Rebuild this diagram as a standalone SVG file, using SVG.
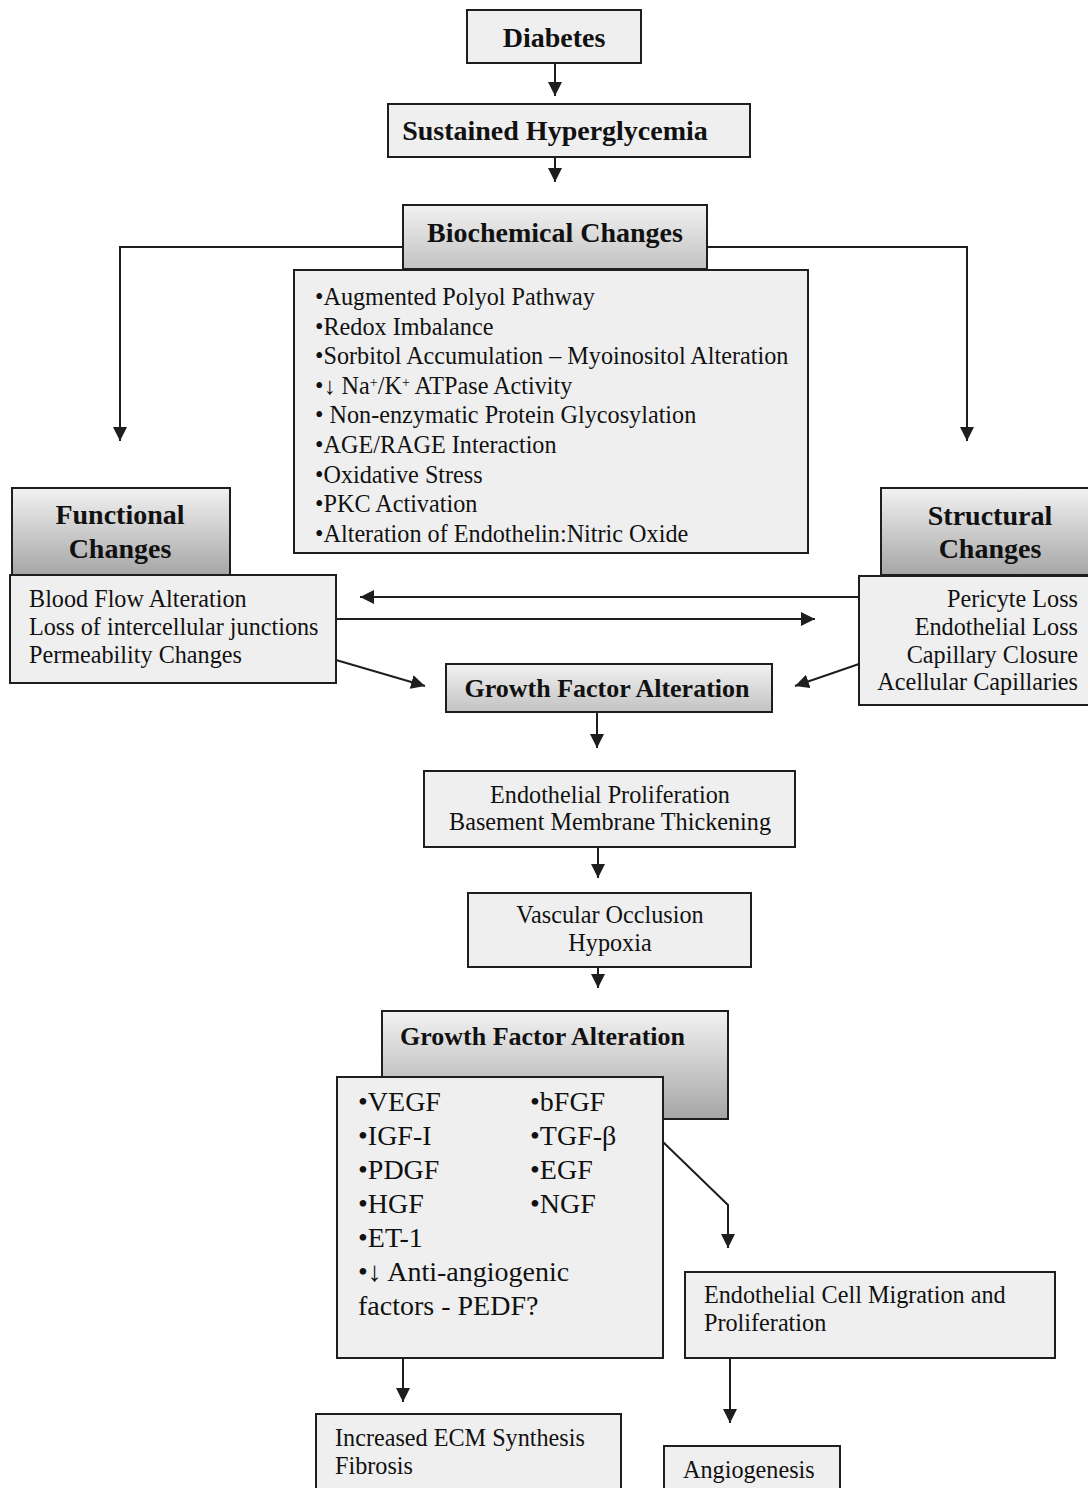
<svg xmlns="http://www.w3.org/2000/svg" width="1088" height="1488" viewBox="0 0 1088 1488">
<style>
.box{fill:#efefef;stroke:#1e1e1e;stroke-width:2}
.hdr{fill:url(#gDark);stroke:#1e1e1e;stroke-width:2}
.hdr2{fill:url(#gLight);stroke:#1e1e1e;stroke-width:2}
.b{font-family:"Liberation Serif","Times New Roman",serif;font-weight:bold;font-size:28px;fill:#111}
.b26{font-family:"Liberation Serif","Times New Roman",serif;font-weight:bold;font-size:26px;fill:#111}
.t{font-family:"Liberation Serif","Times New Roman",serif;font-size:24.2px;fill:#111}
.t28{font-family:"Liberation Serif","Times New Roman",serif;font-size:28px;fill:#111}
.c{text-anchor:middle}
.r{text-anchor:end}
.ln{fill:none;stroke:#1e1e1e;stroke-width:2}
.sup{font-size:14px}
</style>
<defs>
<linearGradient id="gDark" x1="0" y1="0" x2="0" y2="1">
<stop offset="0" stop-color="#f2f2f2"/>
<stop offset="1" stop-color="#a6a6a6"/>
</linearGradient>
<linearGradient id="gLight" x1="0" y1="0" x2="0" y2="1">
<stop offset="0" stop-color="#f2f2f2"/>
<stop offset="1" stop-color="#c2c2c2"/>
</linearGradient>
<marker id="ah" markerUnits="userSpaceOnUse" markerWidth="16" markerHeight="14" refX="14" refY="7" orient="auto">
<path d="M0,0 L14,7 L0,14 Z" fill="#1e1e1e"/>
</marker>
</defs>

<g id="connectors">
<path class="ln" marker-end="url(#ah)" d="M555,63 V96"/>
<path class="ln" marker-end="url(#ah)" d="M555,157 V182"/>
<path class="ln" marker-end="url(#ah)" d="M403,247 H120 V441"/>
<path class="ln" marker-end="url(#ah)" d="M707,247 H967 V441"/>
<path class="ln" marker-end="url(#ah)" d="M859,597 H360"/>
<path class="ln" marker-end="url(#ah)" d="M336,619 H815"/>
<path class="ln" marker-end="url(#ah)" d="M336,660 L425,686"/>
<path class="ln" marker-end="url(#ah)" d="M859,664 L795,686"/>
<path class="ln" marker-end="url(#ah)" d="M597,712 V748"/>
<path class="ln" marker-end="url(#ah)" d="M598,847 V878"/>
<path class="ln" marker-end="url(#ah)" d="M598,967 V988"/>
<path class="ln" marker-end="url(#ah)" d="M663,1142 L728,1205 V1248"/>
<path class="ln" marker-end="url(#ah)" d="M403,1358 V1402"/>
<path class="ln" marker-end="url(#ah)" d="M730,1358 V1423"/>
</g>

<g id="diabetes">
<rect class="box" x="467" y="10" width="174" height="53"/>
<text class="b c" x="554" y="47">Diabetes</text>
</g>

<g id="hyperglycemia">
<rect class="box" x="388" y="104" width="362" height="53"/>
<text class="b c" x="555" y="140">Sustained Hyperglycemia</text>
</g>

<g id="biochemical-header">
<rect class="hdr2" x="403" y="205" width="304" height="64"/>
<text class="b c" x="555" y="242">Biochemical Changes</text>
</g>

<g id="biochemical-list">
<rect class="box" x="294" y="270" width="514" height="283"/>
<text class="t" x="315" y="305">•Augmented Polyol Pathway</text>
<text class="t" x="315" y="334.6">•Redox Imbalance</text>
<text class="t" x="315" y="364.2">•Sorbitol Accumulation – Myoinositol Alteration</text>
<text class="t" x="315" y="393.8">•↓ Na<tspan class="sup" baseline-shift="super">+</tspan>/K<tspan class="sup" baseline-shift="super">+</tspan> ATPase Activity</text>
<text class="t" x="315" y="423.4">• Non-enzymatic Protein Glycosylation</text>
<text class="t" x="315" y="453">•AGE/RAGE Interaction</text>
<text class="t" x="315" y="482.6">•Oxidative Stress</text>
<text class="t" x="315" y="512.2">•PKC Activation</text>
<text class="t" x="315" y="541.8">•Alteration of Endothelin:Nitric Oxide</text>
</g>

<g id="functional-header">
<rect class="hdr" x="12" y="488" width="218" height="87"/>
<text class="b c" x="120" y="524">Functional</text>
<text class="b c" x="120" y="558">Changes</text>
</g>

<g id="functional-list">
<rect class="box" x="10" y="575" width="326" height="108"/>
<text class="t" x="29" y="607">Blood Flow Alteration</text>
<text class="t" x="29" y="635">Loss of intercellular junctions</text>
<text class="t" x="29" y="663">Permeability Changes</text>
</g>

<g id="structural-header">
<rect class="hdr" x="881" y="488" width="215" height="87"/>
<text class="b c" x="990" y="525">Structural</text>
<text class="b c" x="990" y="558">Changes</text>
</g>

<g id="structural-list">
<rect class="box" x="859" y="576" width="237" height="129"/>
<text class="t r" x="1078" y="607">Pericyte Loss</text>
<text class="t r" x="1078" y="635">Endothelial Loss</text>
<text class="t r" x="1078" y="663">Capillary Closure</text>
<text class="t r" x="1078" y="690">Acellular Capillaries</text>
</g>

<g id="growth-factor-1">
<rect class="hdr2" x="446" y="664" width="326" height="48"/>
<text class="b26 c" x="607" y="697">Growth Factor Alteration</text>
</g>

<g id="endothelial-proliferation">
<rect class="box" x="424" y="771" width="371" height="76"/>
<text class="t c" x="610" y="803">Endothelial Proliferation</text>
<text class="t c" x="610" y="830">Basement Membrane Thickening</text>
</g>

<g id="vascular-occlusion">
<rect class="box" x="468" y="893" width="283" height="74"/>
<text class="t c" x="610" y="923">Vascular Occlusion</text>
<text class="t c" x="610" y="951">Hypoxia</text>
</g>

<g id="growth-factor-2-header">
<rect class="hdr" x="382" y="1011" width="346" height="108"/>
<text class="b26" x="400" y="1045">Growth Factor Alteration</text>
</g>

<g id="growth-factor-2-list">
<rect class="box" x="337" y="1077" width="326" height="281"/>
<text class="t28" x="358" y="1111">•VEGF</text>
<text class="t28" x="530" y="1111">•bFGF</text>
<text class="t28" x="358" y="1145">•IGF-I</text>
<text class="t28" x="530" y="1145">•TGF-β</text>
<text class="t28" x="358" y="1179">•PDGF</text>
<text class="t28" x="530" y="1179">•EGF</text>
<text class="t28" x="358" y="1213">•HGF</text>
<text class="t28" x="530" y="1213">•NGF</text>
<text class="t28" x="358" y="1247">•ET-1</text>
<text class="t28" x="358" y="1281">•↓ Anti-angiogenic</text>
<text class="t28" x="358" y="1315">factors - PEDF?</text>
</g>

<g id="endothelial-migration">
<rect class="box" x="685" y="1272" width="370" height="86"/>
<text class="t" x="704" y="1303">Endothelial Cell Migration and</text>
<text class="t" x="704" y="1331">Proliferation</text>
</g>

<g id="ecm-synthesis">
<rect class="box" x="316" y="1414" width="305" height="80"/>
<text class="t" x="335" y="1446">Increased ECM Synthesis</text>
<text class="t" x="335" y="1474">Fibrosis</text>
</g>

<g id="angiogenesis">
<rect class="box" x="664" y="1446" width="176" height="50"/>
<text class="t" x="683" y="1478">Angiogenesis</text>
</g>
</svg>
